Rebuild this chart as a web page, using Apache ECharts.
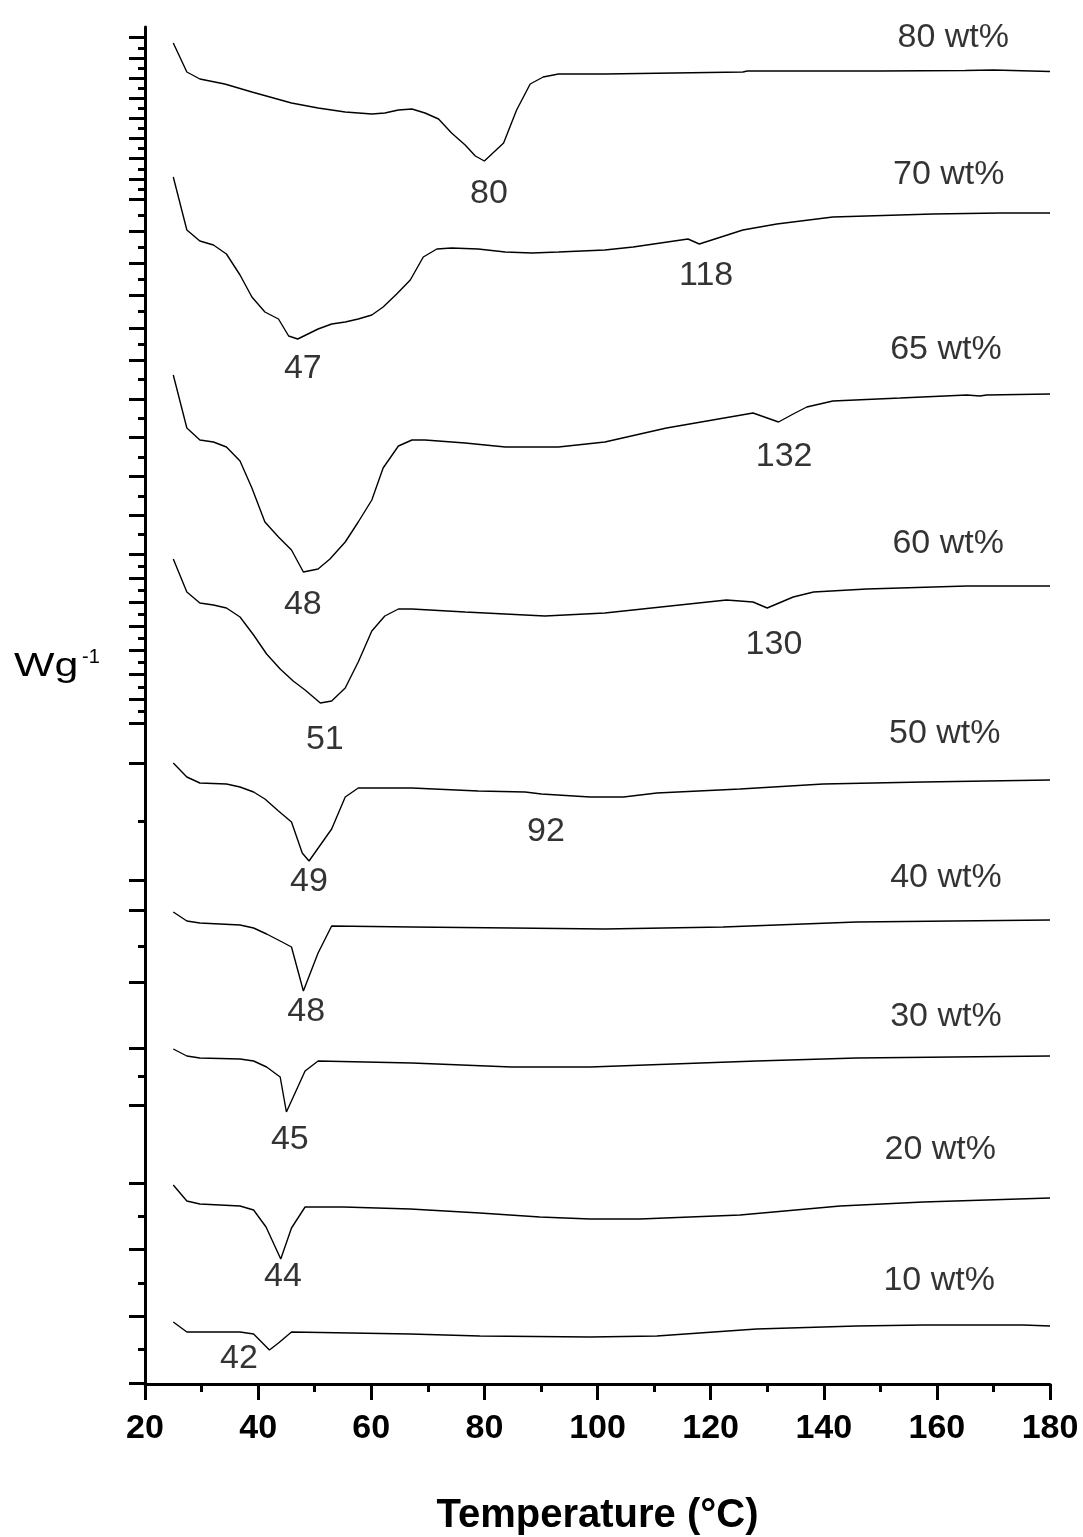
<!DOCTYPE html>
<html>
<head>
<meta charset="utf-8">
<script src="https://cdn.jsdelivr.net/npm/echarts@6/dist/echarts.min.js"></script>
<style>
html, body { margin: 0; padding: 0; background: #fff; }
#chart { width: 1083px; height: 1537px; }
</style>
</head>
<body>
<div id="chart"></div>
<script>
// DSC heating curves, stacked by concentration (endotherm downwards).
// x: temperature in °C, y: heat flow in arbitrary stacked units.
const FONT = '"Liberation Sans", Arial, Helvetica, sans-serif';

const sampleNames = ['80 wt%', '70 wt%', '65 wt%', '60 wt%', '50 wt%', '40 wt%', '30 wt%', '20 wt%', '10 wt%'];

const curve80 = [[25.0,134.1],[27.4,131.2],[29.7,130.5],[34.1,130.0],[38.9,129.2],[45.9,128.1],[50.6,127.6],[55.4,127.2],[60.1,127.0],[62.4,127.1],[64.8,127.4],[67.2,127.5],[69.5,127.1],[71.9,126.5],[74.2,125.1],[76.6,123.9],[78.4,122.8],[80.0,122.3],[83.4,124.1],[85.7,127.4],[88.1,130.0],[90.4,130.7],[93.1,131.0],[101.3,131.0],[125.7,131.2],[126.5,131.3],[150.0,131.3],[165.0,131.35],[170.0,131.4],[180.0,131.25]];
const curve70 = [[25.0,120.7],[27.4,115.4],[29.7,114.3],[32.1,113.9],[34.4,113.0],[36.8,110.9],[38.9,108.7],[41.2,107.2],[43.6,106.5],[45.4,104.8],[47.0,104.5],[50.6,105.5],[53.0,106.0],[55.4,106.2],[57.7,106.5],[60.1,106.9],[62.1,107.7],[64.5,109.0],[66.9,110.4],[69.2,112.7],[71.6,113.5],[74.2,113.6],[78.9,113.5],[83.7,113.2],[88.4,113.1],[93.1,113.2],[101.3,113.4],[106.3,113.7],[116.0,114.5],[118.0,114.0],[125.7,115.4],[131.7,116.0],[141.6,116.7],[159.3,117.0],[171.2,117.1],[180.0,117.1]];
const curve65 = [[25.0,100.9],[27.4,95.6],[29.7,94.4],[32.1,94.2],[34.4,93.7],[36.8,92.3],[38.9,89.6],[41.2,86.2],[43.6,84.7],[45.9,83.4],[48.0,81.2],[50.6,81.5],[52.7,82.5],[55.4,84.2],[57.7,86.2],[60.1,88.4],[62.1,91.6],[64.8,93.8],[67.2,94.4],[69.5,94.4],[76.6,94.1],[83.7,93.7],[93.1,93.7],[101.3,94.2],[112.2,95.6],[127.5,97.1],[132.0,96.2],[134.6,97.0],[137.0,97.7],[141.6,98.3],[153.5,98.6],[165.3,98.9],[167.6,98.8],[168.8,98.9],[180.0,99.0]];
const curve60 = [[25.0,82.5],[27.4,79.2],[29.7,78.1],[32.1,77.9],[34.4,77.6],[36.8,76.7],[39.2,74.9],[41.5,73.0],[43.9,71.5],[46.2,70.3],[48.3,69.4],[51.0,68.1],[53.0,68.3],[55.4,69.6],[57.7,72.2],[60.1,75.3],[62.4,76.8],[64.8,77.5],[67.2,77.5],[76.6,77.2],[90.7,76.8],[101.3,77.1],[122.8,78.4],[127.5,78.2],[130.0,77.6],[134.6,78.7],[138.2,79.2],[147.6,79.5],[165.3,79.8],[180.0,79.8]];
const curve50 = [[25.0,62.1],[27.4,60.7],[29.7,60.1],[34.4,60.0],[36.8,59.7],[39.2,59.2],[41.2,58.5],[43.6,57.3],[45.9,56.2],[47.8,53.1],[49.0,52.3],[53.0,55.5],[55.4,58.7],[57.7,59.6],[67.2,59.6],[78.9,59.3],[87.2,59.2],[90.1,59.0],[98.7,58.7],[104.6,58.7],[110.5,59.1],[125.2,59.5],[139.9,60.0],[157.6,60.2],[180.0,60.4]];
const curve40 = [[25.0,47.2],[27.4,46.3],[29.7,46.1],[36.8,45.9],[39.2,45.6],[41.5,45.0],[43.9,44.3],[45.9,43.7],[48.0,39.3],[50.6,43.1],[53.0,45.8],[67.2,45.7],[84.8,45.6],[101.3,45.5],[122.2,45.7],[145.8,46.2],[180.0,46.4]];
const curve30 = [[25.0,33.5],[27.4,32.8],[29.7,32.6],[36.8,32.5],[39.2,32.3],[41.5,31.7],[43.9,30.7],[45.0,27.2],[48.3,31.3],[50.6,32.3],[67.2,32.1],[84.8,31.7],[98.7,31.7],[128.1,32.3],[145.8,32.6],[180.0,32.8]];
const curve20 = [[25.0,19.9],[27.4,18.3],[29.7,18.0],[36.8,17.8],[39.2,17.4],[41.4,15.7],[44.0,12.5],[45.9,15.6],[48.3,17.7],[55.1,17.7],[66.9,17.5],[79.2,17.1],[89.8,16.7],[98.7,16.5],[107.5,16.5],[125.2,16.9],[142.9,17.8],[157.6,18.2],[180.0,18.6]];
const curve10 = [[25.0,6.2],[27.4,5.2],[36.8,5.2],[39.2,5.0],[42.0,3.4],[43.6,4.1],[45.9,5.2],[66.9,5.0],[79.2,4.8],[98.7,4.7],[110.5,4.8],[128.1,5.5],[145.8,5.8],[157.6,5.9],[175.3,5.9],[180.0,5.8]];

const curves = [curve80, curve70, curve65, curve60, curve50, curve40, curve30, curve20, curve10];

// Where each sample name sits (temperature, stacked value)
const nameLabelT = [162.9, 162.1, 161.6, 162.0, 161.4, 161.6, 161.6, 160.6, 160.4];
const nameLabelY = [134.6, 120.9, 103.4, 84.0, 65.0, 50.6, 36.7, 23.4, 10.3];

// Peak temperatures (°C) and where their labels sit
const peakValues = [80, 47, 118, 48, 132, 51, 130, 92, 49, 48, 45, 44, 42];
const peakLabelT = [80.8, 47.9, 119.2, 47.9, 133.0, 51.8, 131.2, 90.9, 49.0, 48.5, 45.6, 44.4, 36.6];
const peakLabelY = [119.0, 101.5, 110.8, 77.9, 92.7, 64.4, 73.9, 55.2, 50.2, 37.2, 24.4, 10.7, 2.5];

const xTicks = [20, 40, 60, 80, 100, 120, 140, 160, 180];

// Left-axis tick blocks: [top px, bottom px, number of major steps]
const tickBandTop = [37.7, 199, 360, 554, 763, 910, 1048, 1183];
const tickBandBottom = [199, 360, 554, 723, 880, 982, 1105, 1383];
const tickBandSteps = [8, 5, 5, 7, 1, 1, 1, 3];

const PLOT_LEFT = 145, PLOT_RIGHT = 33, PLOT_TOP = 27, PLOT_BOTTOM = 153;

const grids = [{ left: PLOT_LEFT, right: PLOT_RIGHT, top: PLOT_TOP, bottom: PLOT_BOTTOM, outerBoundsMode: 'none', containLabel: false }];
const xAxes = [{
  gridIndex: 0, type: 'value', min: xTicks[0], max: xTicks[xTicks.length - 1], interval: xTicks[1] - xTicks[0],
  name: 'Temperature (°C)', nameLocation: 'middle', nameGap: 112,
  nameTextStyle: { fontFamily: FONT, fontWeight: 'bold', fontSize: 40, color: '#000' },
  axisLine: { show: true, onZero: false, lineStyle: { color: '#000', width: 3 } },
  axisTick: { show: true, length: 16, lineStyle: { color: '#000', width: 3 } },
  minorTick: { show: true, splitNumber: 2, length: 8, lineStyle: { color: '#000', width: 3 } },
  axisLabel: { show: true, margin: 28, fontFamily: FONT, fontWeight: 'bold', fontSize: 34, color: '#000' },
  splitLine: { show: false }, minorSplitLine: { show: false }
}];
const yAxes = [{
  gridIndex: 0, type: 'value', min: 0, max: 135.7,
  axisLine: { show: true, onZero: false, lineStyle: { color: '#000', width: 3 } },
  axisTick: { show: false }, axisLabel: { show: false }, splitLine: { show: false }
}];

tickBandTop.forEach(function (top, i) {
  grids.push({ left: PLOT_LEFT, right: PLOT_RIGHT, top: top, height: tickBandBottom[i] - top, outerBoundsMode: 'none', containLabel: false });
  xAxes.push({ gridIndex: i + 1, type: 'value', min: 20, max: 180, show: false });
  yAxes.push({
    gridIndex: i + 1, type: 'value', min: 0, max: tickBandSteps[i], interval: 1,
    axisLine: { show: false },
    axisTick: { show: true, length: 16, lineStyle: { color: '#000', width: 3 } },
    minorTick: { show: true, splitNumber: 2, length: 7, lineStyle: { color: '#000', width: 3 } },
    axisLabel: { show: false }, splitLine: { show: false }, minorSplitLine: { show: false }
  });
});

const series = curves.map(function (data, i) {
  return {
    name: sampleNames[i], type: 'line', xAxisIndex: 0, yAxisIndex: 0,
    data: data, symbol: 'none', smooth: false, silent: true,
    lineStyle: { color: '#000', width: 1.4 }
  };
});

const textStyle = { color: '#000', fontFamily: FONT, fontSize: 34, fontWeight: 'normal' };

series.push({
  type: 'scatter', xAxisIndex: 0, yAxisIndex: 0, silent: true,
  symbolSize: 1, itemStyle: { color: 'rgba(0,0,0,0)' },
  data: sampleNames.map(function (n, i) { return [nameLabelT[i], nameLabelY[i], n]; }),
  label: Object.assign({ show: true, position: 'inside', formatter: function (p) { return p.data[2]; } }, textStyle)
});
series.push({
  type: 'scatter', xAxisIndex: 0, yAxisIndex: 0, silent: true,
  symbolSize: 1, itemStyle: { color: 'rgba(0,0,0,0)' },
  data: peakValues.map(function (v, i) { return [peakLabelT[i], peakLabelY[i], String(v)]; }),
  label: Object.assign({ show: true, position: 'inside', formatter: function (p) { return p.data[2]; } }, textStyle)
});

const chart = echarts.init(document.getElementById('chart'), null, { renderer: 'canvas' });
chart.setOption({
  backgroundColor: '#fff',
  animation: false,
  grid: grids,
  xAxis: xAxes,
  yAxis: yAxes,
  series: series,
  graphic: [
    { type: 'text', x: 14, y: 667, scaleX: 1.3, silent: true,
      style: { text: 'Wg', fill: '#000', fontSize: 33, fontFamily: FONT, textAlign: 'left', textVerticalAlign: 'middle' } },
    { type: 'text', x: 82, y: 657, silent: true,
      style: { text: '-1', fill: '#000', fontSize: 20, fontFamily: FONT, textAlign: 'left', textVerticalAlign: 'middle' } }
  ]
});
</script>
</body>
</html>
